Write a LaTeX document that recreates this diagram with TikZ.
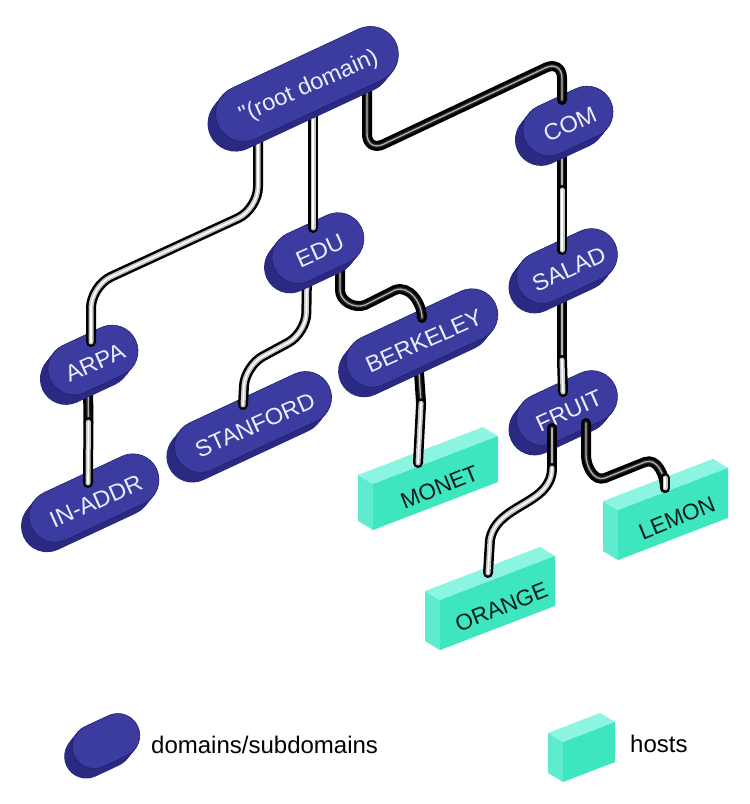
\documentclass[tikz,border=0pt]{standalone}
\usepackage{fontspec}
\setmainfont{Liberation Sans}
\newfontfamily\lblfont[FakeStretch=1.03]{Liberation Sans}
\usetikzlibrary{calc}
\definecolor{pilltop}{RGB}{60,60,160}
\definecolor{pillside}{RGB}{42,42,130}
\definecolor{pillrim}{RGB}{32,32,105}
\definecolor{pilltext}{RGB}{236,236,252}
\definecolor{hostfront}{RGB}{62,230,192}
\definecolor{hostleft}{RGB}{95,236,206}
\definecolor{hosttop}{RGB}{140,245,226}
\definecolor{hosttext}{RGB}{10,30,30}
\tikzset{
  pilllabel/.style={text=pilltext, font=\lblfont\fontsize{23}{25}\selectfont, rotate=24, inner sep=0pt},
  hostlabel/.style={text=hosttext, font=\fontsize{22.5}{25}\selectfont, rotate=22, inner sep=0pt},
  legendtext/.style={text=black, font=\fontsize{24}{26}\selectfont, anchor=base west, inner sep=0pt},
  tube/.style={line cap=round, line width=5pt, draw=gray!45,
    preaction={draw=black, line width=10pt, line cap=round},
    postaction={draw=white, line width=1.6pt, line cap=round}},
  darktube/.style={line cap=round, line width=4pt, draw=black!85,
    preaction={draw=black, line width=10pt, line cap=round},
    postaction={draw=gray!60, line width=1.3pt, line cap=round}},
}
% domain pill: #1 coordinate name, #2 half length, #3 radius, #4 label
\newcommand\dompill[4]{%
  \foreach \k in {10,9,...,1}{%
    \fill[pillside, shift={($(#1)+(-0.8*\k,-\k)$)}, rotate=25]
      (-#2,-#3) -- (#2,-#3) arc[start angle=-90,end angle=90,radius=#3]
      -- (-#2,#3) arc[start angle=90,end angle=270,radius=#3] -- cycle;
  }%
  \fill[pilltop, draw=pillrim, line width=0.6pt, shift={(#1)}, rotate=25]
      (-#2,-#3) -- (#2,-#3) arc[start angle=-90,end angle=90,radius=#3]
      -- (-#2,#3) arc[start angle=90,end angle=270,radius=#3] -- cycle;
  \node[pilllabel] (#1-lbl) at ($(#1)+(2,-3)$) {#4};
}
% host box: #1 coordinate name (front face centre), #2 width, #3 height, #4 label
\newcommand\hostbox[4]{%
  \path ($(#1)+({-#2/2},{-#2/2*tan(21)-#3/2})$) coordinate (#1-bl)
        ++({#2},{#2*tan(21)}) coordinate (#1-br);
  \fill[hostleft] (#1-bl) -- ++(0,#3) -- ++(-15,9) -- ++(0,-#3) -- cycle;
  \fill[hosttop] ($(#1-bl)+(0,#3)$) -- ($(#1-br)+(0,#3)$) -- ++(-15,9)
        -- ($(#1-bl)+(-15,{#3+9})$) -- cycle;
  \fill[hostfront] (#1-bl) -- (#1-br) -- ++(0,#3) -- ($(#1-bl)+(0,#3)$) -- cycle;
  \node[hostlabel] (#1-lbl) at ($(#1)+(4,-4)$) {#4};
}
\begin{document}
\begin{tikzpicture}[x=1pt,y=1pt]
\useasboundingbox (0,0) rectangle (750,-804);
\fill[white] (0,0) rectangle (750,-804);
% centres
\coordinate (root) at (307,-84);
\coordinate (com) at (568,-121);
\coordinate (edu) at (318,-248);
\coordinate (salad) at (567,-266);
\coordinate (arpa) at (93,-360);
\coordinate (inaddr) at (94,-498);
\coordinate (berkeley) at (422,-338);
\coordinate (stanford) at (253,-422);
\coordinate (fruit) at (567,-408);
\coordinate (legpill) at (106,-741);
\coordinate (monet) at (435.5,-483);
\coordinate (orange) at (497.5,-603);
\coordinate (lemon) at (673,-514);
\coordinate (leghost) at (589,-752);

% leaves
\hostbox{monet}{125}{46}{MONET}
\hostbox{orange}{115}{50}{ORANGE}
\hostbox{lemon}{110}{50}{LEMON}
\hostbox{leghost}{52}{40}{}
\dompill{inaddr}{43}{26}{IN-ADDR}
\dompill{stanford}{58}{26}{STANFORD}
\dompill{legpill}{13}{22}{}
\dompill{fruit}{27}{26}{FRUIT}

% tubes out of FRUIT (drawn over it)
\draw[darktube] ($(fruit)+(-15,-20)$) -- (552,-468);
\draw[tube] (552,-468) to[out=-90,in=80] (490,-540) -- ($(orange)+(-9.5,30)$);
\draw[darktube] ($(fruit)+(19,-15)$) -- (586,-455) to[out=-90,in=200] (605,-478)
   -- (645,-462) to[out=20,in=90] ($(lemon)+(-8,26)$);
\draw[tube] ($(lemon)+(-8,36)$) -- ($(lemon)+(-8,26)$);

% tubes into leaves
\draw[darktube] ($(berkeley)+(-4,-20)$) -- ($(berkeley)!0.45!(monet)+(-7,0)$);
\draw[tube] ($(berkeley)!0.45!(monet)+(-7,0)$) -- ($(monet)+(-17.5,20)$);
\draw[darktube] ($(arpa)+(-5,-20)$) -- ($(arpa)!0.45!(inaddr)+(-5,0)$);
\draw[tube] ($(arpa)!0.45!(inaddr)+(-5,0)$) -- ($(inaddr)+(-6,15)$);
\draw[tube, rounded corners=20pt] ($(edu)+(-11,-28)$) -- (306,-333) -- (245,-366) -- ($(stanford)+(-10,17)$);
\draw[darktube] ($(salad)+(-5,-20)$) -- (562,-360);
\draw[tube] (562,-360) -- ($(fruit)+(-4,16)$);

\dompill{berkeley}{55}{26}{BERKELEY}
\dompill{arpa}{21}{26}{ARPA}
\dompill{salad}{27}{26}{SALAD}

\draw[darktube] ($(edu)+(22,-20)$) -- (340,-290) to[out=-90,in=200] (365,-305)
   -- (395,-290) to[out=20,in=90] ($(berkeley)+(0,20)$);
\draw[darktube] ($(com)+(-6,-20)$) -- (562,-190);
\draw[tube] (562,-190) -- ($(salad)+(-5,16)$);
\draw[tube, rounded corners=22pt] ($(root)+(-49,-40)$) -- (258,-209) -- (91,-286) -- ($(arpa)+(-2,18)$);

\dompill{edu}{22}{26}{EDU}
\dompill{com}{21}{26}{COM}

\draw[tube] ($(root)+(6,-30)$) -- ($(edu)+(-5,20)$);
\draw[darktube, rounded corners=18pt] ($(root)+(60,-2)$) -- (367,-152) -- (562,-60) -- ($(com)+(-6,21)$);

\dompill{root}{70}{28}{\char34(root domain)}

% legend
\node[legendtext] (legd) at (151,-753) {domains/subdomains};
\node[legendtext] (legh) at (630,-752) {hosts};
\end{tikzpicture}
\end{document}
